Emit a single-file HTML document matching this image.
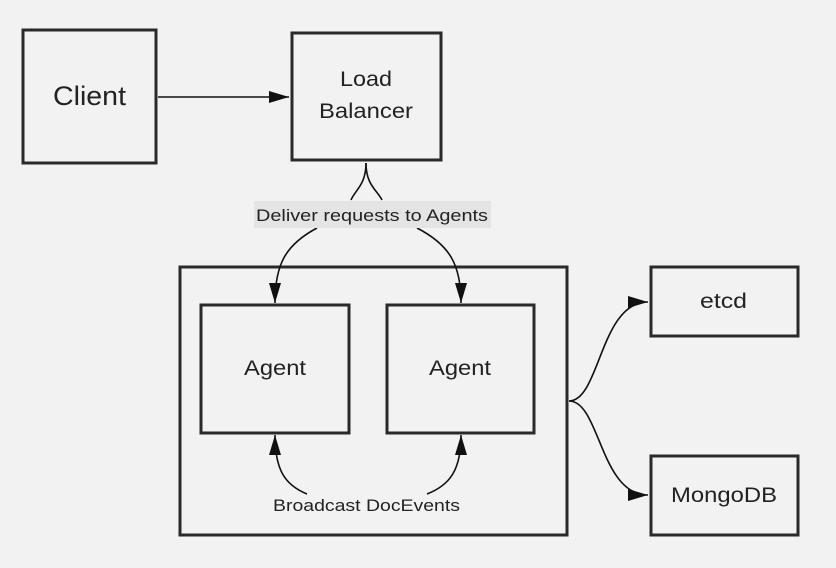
<!DOCTYPE html>
<html><head><meta charset="utf-8"><style>
html,body{margin:0;padding:0;background:#f2f2f2;}
svg{display:block;}
text{font-family:"Liberation Sans","DejaVu Sans",sans-serif;fill:#222;}
</style></head><body>
<svg width="836" height="568" viewBox="0 0 836 568" xmlns="http://www.w3.org/2000/svg">
<defs>
<marker id="b" viewBox="0 0 20 12" refX="20" refY="6" markerWidth="20" markerHeight="12" markerUnits="userSpaceOnUse" orient="auto">
<path d="M0,0 L20,6 L0,12 Z" fill="#111"/>
</marker>
</defs>
<rect width="836" height="568" fill="#f2f2f2"/>
<g fill="none" stroke="#2a2a2a" stroke-width="3">
<rect x="23" y="30" width="133" height="133"/>
<rect x="292" y="33" width="149" height="127"/>
<rect x="180" y="267" width="387" height="268"/>
<rect x="201" y="305" width="148" height="128"/>
<rect x="387" y="305" width="147" height="128"/>
<rect x="651" y="267" width="147" height="69"/>
<rect x="651" y="456" width="147" height="79"/>
</g>
<text x="53" y="105" font-size="27" textLength="73" lengthAdjust="spacingAndGlyphs">Client</text>
<text x="340" y="86" font-size="21" textLength="52" lengthAdjust="spacingAndGlyphs">Load</text>
<text x="319" y="118" font-size="21" textLength="94" lengthAdjust="spacingAndGlyphs">Balancer</text>
<text x="244" y="375" font-size="21" textLength="62" lengthAdjust="spacingAndGlyphs">Agent</text>
<text x="429" y="375" font-size="21" textLength="62" lengthAdjust="spacingAndGlyphs">Agent</text>
<text x="700" y="308" font-size="21" textLength="47" lengthAdjust="spacingAndGlyphs">etcd</text>
<text x="671" y="502" font-size="21" textLength="106" lengthAdjust="spacingAndGlyphs">MongoDB</text>
<g fill="none" stroke="#111" stroke-width="1.6">
<path d="M158,97 L289,97" marker-end="url(#b)"/>
<path d="M366,163 C366,185 355,190 351,200"/>
<path d="M366,163 C366,185 377,190 382,200"/>
<path d="M317,228 C285,245 275,265 275,303" marker-end="url(#b)"/>
<path d="M417,228 C450,245 461,265 461,303" marker-end="url(#b)"/>
<path d="M307,494 C285,485 275,470 275,435" marker-end="url(#b)"/>
<path d="M427,494 C450,485 461,470 461,435" marker-end="url(#b)"/>
<path d="M569,401 C600,401 600,302 648,302" marker-end="url(#b)"/>
<path d="M569,401 C600,401 600,495 648,495" marker-end="url(#b)"/>
</g>
<rect x="254" y="201" width="237" height="27" fill="#e4e4e4"/>
<text x="256" y="221" font-size="17" textLength="232" lengthAdjust="spacingAndGlyphs">Deliver requests to Agents</text>
<text x="273" y="511" font-size="17" textLength="187" lengthAdjust="spacingAndGlyphs">Broadcast DocEvents</text>
</svg>
</body></html>
